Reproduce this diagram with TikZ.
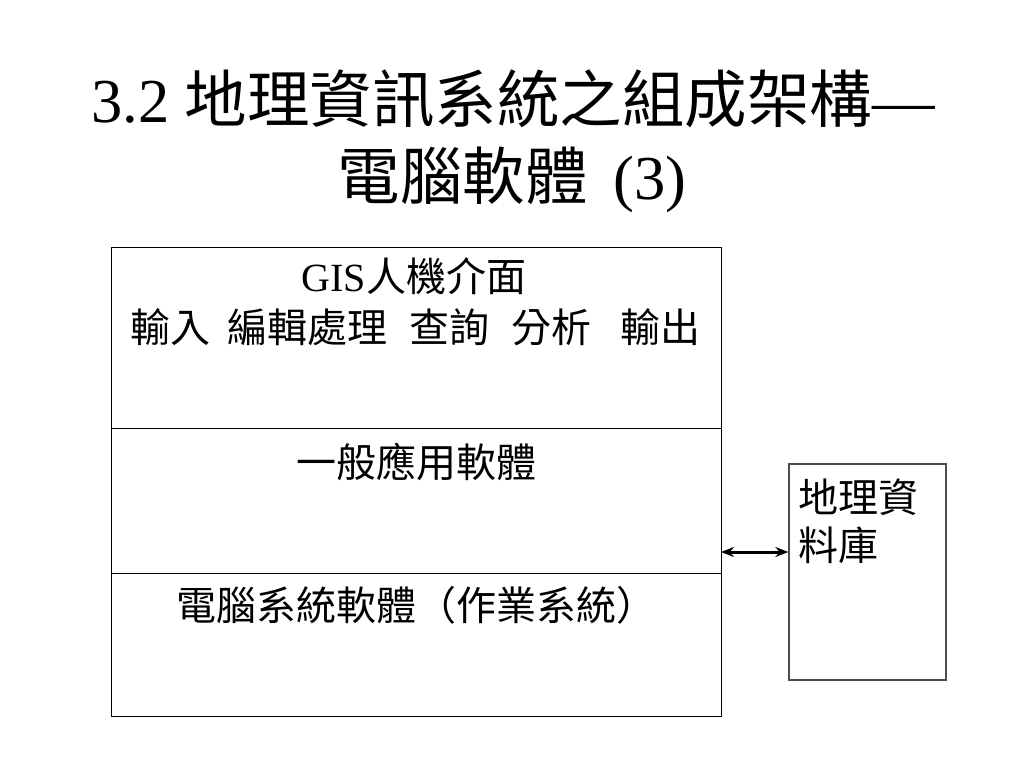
\documentclass[tikz,border=0pt]{standalone}
\usepackage{fontspec}
\setmainfont{Liberation Serif}
\newfontfamily\cjk{Noto Sans CJK TC}
\usetikzlibrary{positioning,arrows.meta}

\begin{document}
\begin{tikzpicture}[x=1pt,y=-1pt,>={Stealth[length=13pt,width=10pt]},
  layer/.style={draw,line width=1pt,minimum width=610pt,inner sep=0pt},
  body/.style={font=\fontsize{40}{48}\selectfont,inner sep=0pt,anchor=base},
  head/.style={font=\fontsize{62.5}{73}\selectfont,inner sep=0pt,anchor=base}]

            \useasboundingbox (0,0) rectangle (1024,768);

            % title
            \node[head] (t1) at (513,122) {3.2 {\cjk 地理資訊系統之組成架構}—};
            \node[head] (t2) at (512,199) {{\cjk 電腦軟體}\hspace{26pt}(3)};

            % software layers
            \node[layer, minimum height=181pt] (gui) at (416,337.5) {};
            \node[layer, minimum height=145pt] (app) at (416,500.5) {};
            \node[layer, minimum height=143pt] (os) at (416,644.5) {};

            \node[body] (gui1) at (414,291) {GIS{\cjk 人機介面}};
            \node[body] (gui2) at (415,342) {\cjk 輸入\hspace{17pt}編輯處理\hspace{22pt}查詢\hspace{22pt}分析\hspace{29pt}輸出};
            \node[body] (app1) at (416,477) {\cjk 一般應用軟體};
            \node[body] (os1) at (416,620) {\cjk 電腦系統軟體（作業系統）};

            % database
            \node[draw=black!70, line width=1.3pt, minimum width=157pt, minimum height=216pt, inner sep=0pt] (db) at (867.5,572) {};
            \node[body, anchor=base west] (db1) at (798,512) {\cjk 地理資};
            \node[body, anchor=base west] (db2) at (798,560) {\cjk 料庫};

            \coordinate (link) at (721,552);
            \draw[<->, line width=3pt] (link) -- (link -| db.west);
        \end{tikzpicture}
\end{document}
